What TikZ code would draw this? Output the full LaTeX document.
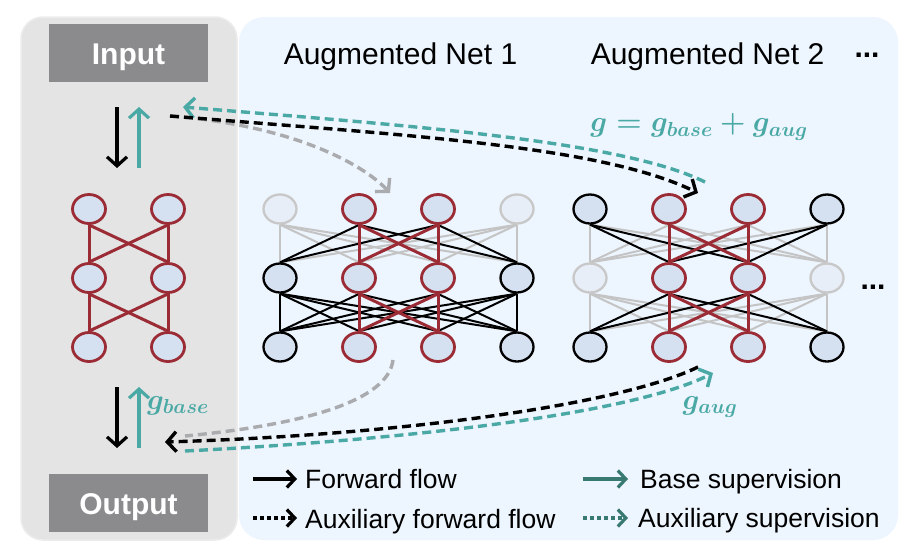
\RequirePackage{fix-cm}
\documentclass[tikz,border=0pt]{standalone}
\usepackage{fontspec}
\setmainfont{Liberation Sans}
\usetikzlibrary{arrows.meta,shapes.geometric}
\definecolor{panelgray}{HTML}{E4E4E4}
\definecolor{panelgrayline}{HTML}{ECECEC}
\definecolor{panelblue}{HTML}{EDF5FE}
\definecolor{boxgray}{HTML}{8B8B8D}
\definecolor{tealc}{HTML}{4AA9A5}
\definecolor{tealdark}{HTML}{387A72}
\definecolor{netred}{HTML}{9B2C36}
\definecolor{nodefill}{HTML}{D5E1F0}
\definecolor{fadefill}{HTML}{E7EEF8}
\definecolor{fadegray}{HTML}{C8C8C8}
\definecolor{edgegray}{HTML}{C4C4C4}
\definecolor{dashgray}{HTML}{A9ABAE}
\pgfdeclarelayer{bg}
\pgfdeclarelayer{edges}
\pgfsetlayers{bg,edges,main}
\begin{document}
\begin{tikzpicture}[x=1pt,y=-1pt,
  chev/.tip={Straight Barb[length=9pt,width=20pt]},
  chevs/.tip={Straight Barb[length=8pt,width=17pt]},
  nd/.style={ellipse, minimum width=33pt, minimum height=29pt, inner sep=0pt, fill=nodefill},
  rnd/.style={nd, draw=netred, line width=2.8pt},
  bnd/.style={nd, draw=black, line width=2.3pt},
  fnd/.style={nd, draw=fadegray, fill=fadefill, line width=2.3pt},
  redge/.style={draw=netred, line width=3pt},
  bedge/.style={draw=black, line width=2pt},
  gedge/.style={draw=edgegray, line width=2pt},
  iobox/.style={fill=boxgray, minimum width=159pt, minimum height=58pt, inner sep=0pt},
  iotext/.style={text=white, font=\fontsize{30}{34}\selectfont\bfseries, inner sep=0pt, anchor=base},
  header/.style={font=\fontsize{30}{34}\selectfont, inner sep=0pt, anchor=base},
  legtext/.style={font=\fontsize{26.5}{30}\selectfont, inner sep=0pt, anchor=base west},
  mathlab/.style={text=tealc, font=\fontsize{29}{32}\selectfont\boldmath, inner sep=0pt},
  vblack/.style={draw=black, line width=3.2pt, -chev},
  vteal/.style={draw=tealc, line width=3.2pt, -chev},
  dblack/.style={draw=black, line width=3.4pt, dash pattern=on 9pt off 5pt, -chev},
  dteal/.style={draw=tealc, line width=3.4pt, dash pattern=on 9pt off 5pt, -chev},
  dgray/.style={draw=dashgray, line width=3.4pt, dash pattern=on 9pt off 5pt},
  legsolid/.style={line width=3.2pt, -chevs},
  legdot/.style={line width=3.2pt, dash pattern=on 4pt off 3pt, -chevs},
  dots/.style={font=\fontsize{30}{34}\selectfont\bfseries, inner sep=0pt}
]
\useasboundingbox (0,0) rectangle (920,558);

% panels
\begin{pgfonlayer}{bg}
\fill[white] (0,0) rectangle (920,558);
\node[draw=panelgrayline, fill=panelgray, line width=1.5pt, rounded corners=22pt,
      minimum width=216pt, minimum height=523pt, inner sep=0pt] (leftpanel) at (129,278.5) {};
\node[fill=panelblue, rounded corners=25pt,
      minimum width=659pt, minimum height=523pt, inner sep=0pt] (rightpanel) at (568.5,278.5) {};
\end{pgfonlayer}

% input / output
\node[iobox] (inbox) at (128.5,53) {};
\node[iotext] (intext) at (128.5,64) {Input};
\node[iobox] (outbox) at (128.5,503) {};
\node[iotext] (outtext) at (128.5,514) {Output};

% headers
\node[header] (h1) at (400.5,64) {Augmented Net 1};
\node[header] (h2) at (707.5,64) {Augmented Net 2};
\node[dots] (hdots) at (867,55) {...};
\node[dots] (mdots) at (873,287) {...};

% left base net
\foreach \r/\y in {1/209,2/278,3/347}{
  \node[rnd] (l\r1) at (89,\y) {};
  \node[rnd] (l\r2) at (168,\y) {};
}
% net 1
\foreach \c/\x in {2/359,3/438}{
  \node[rnd] (p1\c) at (\x,209) {};
  \node[rnd] (p2\c) at (\x,278) {};
  \node[rnd] (p3\c) at (\x,347) {};
}
\foreach \c/\x in {1/280,4/517}{
  \node[fnd] (p1\c) at (\x,209) {};
  \node[bnd] (p2\c) at (\x,278) {};
  \node[bnd] (p3\c) at (\x,347) {};
}
% net 2
\foreach \c/\x in {2/669,3/748}{
  \node[rnd] (q1\c) at (\x,209) {};
  \node[rnd] (q2\c) at (\x,278) {};
  \node[rnd] (q3\c) at (\x,347) {};
}
\foreach \c/\x in {1/590,4/827}{
  \node[bnd] (q1\c) at (\x,209) {};
  \node[fnd] (q2\c) at (\x,278) {};
  \node[bnd] (q3\c) at (\x,347) {};
}

\begin{pgfonlayer}{edges}
% left net edges
\foreach \r/\s in {1/2,2/3}{
  \foreach \c in {1,2}{
    \foreach \d in {1,2}{
      \draw[redge] (l\r\c.south) -- (l\s\d.north);
    }
  }
}
% net 1, layer 1
\foreach \c in {1,4}{\foreach \d in {1,2,3,4}{\draw[gedge] (p1\c.south) -- (p2\d.north);}}
\foreach \c in {2,3}{\foreach \d in {1,4}{\draw[bedge] (p1\c.south) -- (p2\d.north);}}
\foreach \c in {2,3}{\foreach \d in {2,3}{\draw[redge] (p1\c.south) -- (p2\d.north);}}
% net 1, layer 2
\foreach \c in {1,4}{\foreach \d in {1,2,3,4}{\draw[bedge] (p2\c.south) -- (p3\d.north);}}
\foreach \c in {2,3}{\foreach \d in {1,4}{\draw[bedge] (p2\c.south) -- (p3\d.north);}}
\foreach \c in {2,3}{\foreach \d in {2,3}{\draw[redge] (p2\c.south) -- (p3\d.north);}}
% net 2, layer 1
\foreach \c in {1,2,3,4}{\foreach \d in {1,4}{\draw[gedge] (q1\c.south) -- (q2\d.north);}}
\foreach \c in {1,4}{\foreach \d in {2,3}{\draw[bedge] (q1\c.south) -- (q2\d.north);}}
\foreach \c in {2,3}{\foreach \d in {2,3}{\draw[redge] (q1\c.south) -- (q2\d.north);}}
% net 2, layer 2
\foreach \c in {1,4}{\foreach \d in {1,2,3,4}{\draw[gedge] (q2\c.south) -- (q3\d.north);}}
\foreach \c in {2,3}{\foreach \d in {1,4}{\draw[bedge] (q2\c.south) -- (q3\d.north);}}
\foreach \c in {2,3}{\foreach \d in {2,3}{\draw[redge] (q2\c.south) -- (q3\d.north);}}
\end{pgfonlayer}

% vertical arrows
\coordinate (ta) at (117,107); \coordinate (tb) at (117,168);
\coordinate (tc) at (139,168); \coordinate (td) at (139,107);
\draw[vblack] (ta) -- (tb);
\draw[vteal] (tc) -- (td);
\coordinate (ba) at (117,387); \coordinate (bb) at (117,448);
\coordinate (bc) at (139,448); \coordinate (bd) at (139,387);
\draw[vblack] (ba) -- (bb);
\draw[vteal] (bc) -- (bd);

% dashed flows (top)
\coordinate (fstart) at (170,116);
\coordinate (graytip) at (390,193);
\coordinate (blacktip) at (698,193);
\coordinate (tealstart) at (705,182);
\coordinate (tealtip) at (183,107);
\draw[dgray, -chev] (fstart) .. controls (290,125) and (362,163) .. (graytip);
\draw[dteal] (tealstart) .. controls (620,140) and (400,125) .. (tealtip);
\draw[dblack] (fstart) .. controls (400,135) and (600,145) .. (blacktip);

% dashed flows (bottom)
\coordinate (graystart2) at (393,360);
\coordinate (grayend2) at (185,436);
\coordinate (blackstart2) at (698,367);
\coordinate (blacktip2) at (165,442);
\coordinate (tealstart2) at (185,451);
\coordinate (tealtip2) at (713,373);
\draw[dgray] (graystart2) .. controls (388,402) and (300,425) .. (grayend2);
\draw[dblack] (blackstart2) .. controls (620,405) and (400,435) .. (blacktip2);
\draw[dteal] (tealstart2) .. controls (400,440) and (630,415) .. (tealtip2);

% math labels
\node[mathlab] (gsum) at (699,127) {$g=g_{base}+g_{aug}$};
\node[mathlab] (gbase) at (178,406) {$g_{base}$};
\node[mathlab] (gaug) at (710,407) {$g_{aug}$};

% legend
\coordinate (l1a) at (253,479); \coordinate (l1b) at (297,479);
\coordinate (l2a) at (253,518); \coordinate (l2b) at (297,518);
\coordinate (l3a) at (583,479); \coordinate (l3b) at (628,479);
\coordinate (l4a) at (583,518); \coordinate (l4b) at (628,518);
\draw[legsolid, draw=black] (l1a) -- (l1b);
\draw[legdot, draw=black] (l2a) -- (l2b);
\draw[legsolid, draw=tealdark] (l3a) -- (l3b);
\draw[legdot, draw=tealdark] (l4a) -- (l4b);
\node[legtext] (t1) at (305,488) {Forward flow};
\node[legtext] (t2) at (305,528) {Auxiliary forward flow};
\node[legtext] (t3) at (640,488) {Base supervision};
\node[legtext] (t4) at (638,527) {Auxiliary supervision};
\end{tikzpicture}
\end{document}
